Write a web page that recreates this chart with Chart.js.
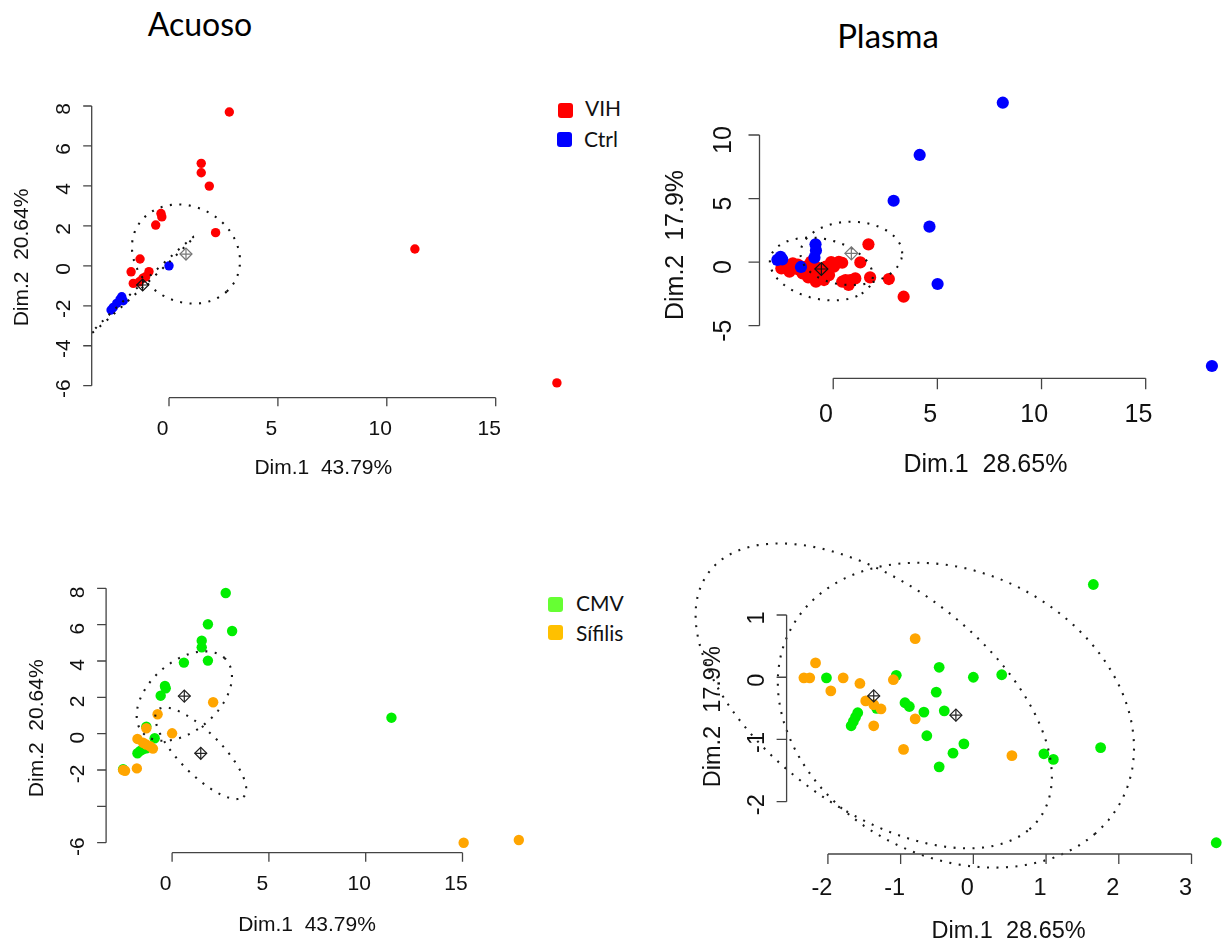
<!DOCTYPE html>
<html>
<head>
<meta charset="utf-8">
<script src="https://cdn.jsdelivr.net/npm/chart.js@4.4.1/dist/chart.umd.min.js"></script>
<style>
  html, body { margin:0; padding:0; background:#fff; }
  body { width:1228px; height:943px; position:relative; overflow:hidden; }
  canvas { position:absolute; left:0; top:0; }
  .ttl { position:absolute; font-family:Lato, "Open Sans", sans-serif; font-size:32px; line-height:1; color:#000; transform:translateX(-50%); white-space:nowrap; }
  .lgt { position:absolute; font-family:Lato, "Open Sans", sans-serif; font-size:21px; line-height:1; color:#111; white-space:nowrap; }
  .lgs { position:absolute; width:15px; height:15px; border-radius:3px; }
</style>
</head>
<body>
<div class="ttl" style="left:200px; top:8px;">Acuoso</div>
<div class="ttl" style="left:888px; top:19px; font-size:33px;">Plasma</div>

<div class="lgs" style="left:558px; top:103px; background:#ff0000;"></div>
<div class="lgt" style="left:585px; top:97px;">VIH</div>
<div class="lgs" style="left:557px; top:132px; background:#0000ff;"></div>
<div class="lgt" style="left:584px; top:128px;">Ctrl</div>

<div class="lgs" style="left:548px; top:597px; background:#66ff33;"></div>
<div class="lgt" style="left:576px; top:592px;">CMV</div>
<div class="lgs" style="left:548px; top:625px; background:#ffc000;"></div>
<div class="lgt" style="left:576px; top:622px;">Sífilis</div>

<canvas id="c1" width="1228" height="943"></canvas>
<canvas id="c2" width="1228" height="943"></canvas>
<canvas id="c3" width="1228" height="943"></canvas>
<canvas id="c4" width="1228" height="943"></canvas>

<script>
// ---------------- DATA ----------------
// Panel: Acuoso, VIH vs Ctrl
const acuosoVihX  = [2.77, 1.48, 1.48, 1.85, -0.37, -0.33, -0.61, 2.14, -1.33, -1.74, -0.92, -1.07, -1.64, -1.36, -1.20, 11.29, 17.81];
const acuosoVihY  = [7.70, 5.13, 4.66, 3.99, 2.62, 2.45, 2.04, 1.66, 0.34, -0.30, -0.29, -0.55, -0.88, -0.80, -0.62, 0.84, -5.86];
const acuosoCtrlX = [0.00, -2.10, -2.17, -2.25, -2.40, -2.56, -2.66];
const acuosoCtrlY = [0.00, -1.75, -1.55, -1.68, -1.88, -2.08, -2.21];
const acuosoHivCenterX = [0.78, -1.21];
const acuosoHivCenterY = [0.59, -0.96];
const acuosoHivEllA   = [2.65, 3.38];
const acuosoHivEllB   = [2.30, 0.08];
const acuosoHivEllAng = [-45, 45.7];

// Panel: Plasma, VIH vs Ctrl
const plasmaVihX = [1.69, 1.30, 1.77, 2.67, 3.38, -2.25, -1.94, -1.62, -1.31, -1.07, -0.83, -0.60, -0.44, -0.20, 0.03, 0.27, 0.43, 0.59, 0.82, 1.06, 0.74, 0.43, -2.10, -1.47, -0.99, -0.60, -0.83, -0.36, -2.49, -0.10, -1.80, -1.10, -0.40, -1.70, -1.20, 0.10];
const plasmaVihY = [1.40, -0.02, -1.20, -1.33, -2.72, -0.36, -0.10, -0.62, -0.36, 0.03, -0.36, -0.62, -1.41, -1.02, -0.36, 0.03, -0.05, -1.41, -1.41, -1.28, -1.80, -1.54, -0.75, -0.88, -1.02, -1.02, -1.54, -0.36, -0.49, 0.00, -0.30, -0.70, -0.80, -0.20, -1.20, -0.15];
const plasmaCtrlX = [8.14, 4.15, 2.90, 4.62, 5.01, 18.18, -2.53, -2.68, -2.45, -1.55, -0.85, -0.83, -0.90];
const plasmaCtrlY = [12.54, 8.43, 4.83, 2.79, -1.72, -8.17, 0.42, 0.18, 0.22, -0.38, 1.40, 0.92, 0.35];
const plasmaHivCenterX = [-0.57, 0.87];
const plasmaHivCenterY = [-0.54, 0.69];
const plasmaHivEllA   = [2.74, 2.44];
const plasmaHivEllB   = [2.17, 2.49];
const plasmaHivEllAng = [-45, 0];

// Panel: Acuoso, CMV vs Sífilis
const acuosoCmvX = [2.77, 1.85, 3.10, 1.53, 1.53, 1.85, 0.61, -0.37, -0.33, -0.59, 11.33, -1.33, -0.90, -1.79, -1.51, -1.33, -2.53, -1.65];
const acuosoCmvY = [7.74, 6.02, 5.65, 5.12, 4.75, 4.02, 3.91, 2.63, 2.50, 2.09, 0.88, 0.39, -0.25, -1.08, -0.86, -0.80, -1.96, -0.95];
const acuosoSifX = [2.12, -0.75, 0.00, -1.33, -1.79, -1.33, -1.14, -0.99, -1.82, -2.53, -2.43, 15.06, 17.91, -1.50];
const acuosoSifY = [1.73, 1.07, 0.02, 0.30, -0.29, -0.60, -0.69, -0.82, -1.91, -2.00, -2.04, -6.00, -5.85, -0.50];
const acuosoInfCenterX = [0.63, 1.48];
const acuosoInfCenterY = [2.07, -1.08];
const acuosoInfEllA   = [2.95, 3.26];
const acuosoInfEllB   = [1.85, 1.12];
const acuosoInfEllAng = [45, -47.5];

// Panel: Plasma, CMV vs Sífilis
const plasmaCmvX = [1.65, 3.34, -0.47, 0.00, 0.39, -2.02, -1.06, -0.51, -0.94, -0.88, -0.68, -0.40, -1.33, -1.59, -1.62, -1.65, -1.68, -0.64, -0.13, -0.28, -0.47, 0.97, 1.10, 1.75];
const plasmaCmvY = [1.49, -2.66, 0.16, 0.00, 0.04, -0.01, 0.03, -0.24, -0.41, -0.47, -0.56, -0.54, -0.50, -0.57, -0.64, -0.71, -0.78, -0.94, -1.07, -1.22, -1.44, -1.23, -1.32, -1.13];
const plasmaSifX = [-0.80, -2.17, -2.33, -2.25, -1.79, -1.56, -1.96, -1.10, -1.48, -1.37, -1.27, -1.37, -0.80, -0.96, 0.53];
const plasmaSifY = [0.62, 0.23, -0.01, -0.01, -0.01, -0.10, -0.22, -0.04, -0.38, -0.44, -0.51, -0.78, -0.67, -1.16, -1.26];
const plasmaInfCenterX = [-0.24, -1.37];
const plasmaInfCenterY = [-0.61, -0.30];
const plasmaInfEllA   = [2.70, 3.03];
const plasmaInfEllB   = [2.17, 1.68];
const plasmaInfEllAng = [-45, -45];

// Ticks and labels
const acuosoXTicks = [0, 5, 10, 15];
const acuosoXLabels = ['0', '5', '10', '15'];
const acuosoYTicks = [-6, -4, -2, 0, 2, 4, 6, 8];
const acuosoYLabels = ['-6', '-4', '-2', '0', '2', '4', '6', '8'];
const acuosoYLabels2 = ['-6', '', '-2', '0', '2', '4', '6', '8'];
const plasmaXTicks = [0, 5, 10, 15];
const plasmaXLabels = ['0', '5', '10', '15'];
const plasmaYTicks = [-5, 0, 5, 10];
const plasmaYLabels = ['-5', '0', '5', '10'];
const plasma2XTicks = [-2, -1, 0, 1, 2, 3];
const plasma2XLabels = ['-2', '-1', '0', '1', '2', '3'];
const plasma2YTicks = [-2, -1, 0, 1];
const plasma2YLabels = ['-2', '-1', '0', '1'];
const acuosoXTitle = 'Dim.1  43.79%';
const acuosoYTitle = 'Dim.2  20.64%';
const plasmaXTitle = 'Dim.1  28.65%';
const plasmaYTitle = 'Dim.2  17.9%';

// ---------------- HELPERS ----------------
const W = 1228, H = 943;
const zip = (xs, ys) => xs.map((x, i) => ({ x: x, y: ys[i] }));
function lin(p, a, b) { return a[1] + (p - a[0]) * (b[1] - a[1]) / (b[0] - a[0]); }

function ellipse(cx, cy, a, b, deg) {
  const th = deg * Math.PI / 180, pts = [];
  for (let i = 0; i <= 140; i++) {
    const t = i / 140 * 2 * Math.PI;
    pts.push({
      x: cx + a * Math.cos(t) * Math.cos(th) - b * Math.sin(t) * Math.sin(th),
      y: cy + a * Math.cos(t) * Math.sin(th) + b * Math.sin(t) * Math.cos(th)
    });
  }
  return pts;
}

function pointsDS(xs, ys, color, r, order, clip) {
  return { data: zip(xs, ys), pointStyle: 'circle', pointRadius: r, pointBackgroundColor: color,
           pointBorderColor: color, pointBorderWidth: 0, showLine: false, order: order, clip: clip };
}
function ellipseDS(cx, cy, a, b, ang, color, clip) {
  return { data: ellipse(cx, cy, a, b, ang), showLine: true, pointRadius: 0, borderColor: color,
           borderWidth: 2.1, borderDash: [2, 7.5], tension: 0, fill: false, order: 1, clip: clip };
}
function centerDS(xs, ys, colors, r) {
  const out = [];
  xs.forEach((x, i) => {
    out.push({ data: [{ x: x, y: ys[i] }], pointStyle: 'rectRot', pointRadius: r, pointBackgroundColor: 'rgba(0,0,0,0)',
               pointBorderColor: colors[i], pointBorderWidth: 1.2, showLine: false, order: 0, clip: false });
    out.push({ data: [{ x: x, y: ys[i] }], pointStyle: 'cross', pointRadius: r, pointBorderColor: colors[i],
               pointBorderWidth: 1.2, showLine: false, order: 0, clip: false });
  });
  return out;
}
function ellipsesDS(cx, cy, A, B, ang, color, clip) {
  return cx.map((c, i) => ellipseDS(c, cy[i], A[i], B[i], ang[i], color, clip));
}

// R-style axes drawn from the chart's own scales
const rAxes = {
  id: 'rAxes',
  afterDraw(chart, args, o) {
    const ctx = chart.ctx, xs = chart.scales.x, ys = chart.scales.y, ca = chart.chartArea;
    ctx.save();
    ctx.strokeStyle = '#444'; ctx.lineWidth = 1.3; ctx.fillStyle = '#111';
    const bx = ca.bottom, lx = ca.left;
    ctx.beginPath();
    ctx.moveTo(xs.getPixelForValue(o.xTicks[0]), bx);
    ctx.lineTo(xs.getPixelForValue(o.xTicks[o.xTicks.length - 1]), bx);
    o.xTicks.forEach(v => { const p = xs.getPixelForValue(v); ctx.moveTo(p, bx); ctx.lineTo(p, bx + o.tick); });
    ctx.moveTo(lx, ys.getPixelForValue(o.yTicks[0]));
    ctx.lineTo(lx, ys.getPixelForValue(o.yTicks[o.yTicks.length - 1]));
    o.yTicks.forEach(v => { const p = ys.getPixelForValue(v); ctx.moveTo(lx, p); ctx.lineTo(lx - o.tick, p); });
    ctx.stroke();
    const fs = o.font;
    ctx.font = fs + 'px "Liberation Sans", Arial, sans-serif';
    ctx.textAlign = 'center'; ctx.textBaseline = 'alphabetic';
    const dy = 0.358 * fs;
    o.xTicks.forEach((v, i) => ctx.fillText(o.xLabels[i], xs.getPixelForValue(v) + o.xdx, bx + o.xdy + dy));
    o.yTicks.forEach((v, i) => {
      ctx.save(); ctx.translate(lx + o.ydx, ys.getPixelForValue(v) + o.ydy); ctx.rotate(-Math.PI / 2);
      ctx.fillText(o.yLabels[i], 0, dy); ctx.restore();
    });
    ctx.fillText(o.xTitle, o.xT[0], o.xT[1] + dy);
    ctx.save(); ctx.translate(o.yT[0], o.yT[1]); ctx.rotate(-Math.PI / 2); ctx.fillText(o.yTitle, 0, dy); ctx.restore();
    ctx.restore();
  }
};

function build(id, L, datasets, axis) {
  return new Chart(document.getElementById(id), {
    type: 'scatter',
    data: { datasets: datasets },
    options: {
      responsive: false, animation: false, devicePixelRatio: 1, events: [],
      layout: { padding: { left: L.left, top: L.top, right: W - L.right, bottom: H - L.bottom } },
      scales: {
        x: { type: 'linear', display: false, min: lin(L.left, L.xCal[0], L.xCal[1]), max: lin(L.right, L.xCal[0], L.xCal[1]) },
        y: { type: 'linear', display: false, min: lin(L.bottom, L.yCal[0], L.yCal[1]), max: lin(L.top, L.yCal[0], L.yCal[1]) }
      },
      plugins: { legend: { display: false }, tooltip: { enabled: false }, rAxes: axis }
    },
    plugins: [rAxes]
  });
}

const RED = '#ff0000', BLUE = '#0000ff', GREEN = '#00ee00', ORANGE = '#ffa500';

// Panel 1
build('c1',
  { left: 91.7, right: 580, top: 95, bottom: 397.7, xCal: [[169.0, 0], [495.7, 15]], yCal: [[106.0, 8], [385.7, -6]] },
  [].concat(
    centerDS(acuosoHivCenterX, acuosoHivCenterY, ['#777', '#111'], 6),
    ellipsesDS(acuosoHivCenterX, acuosoHivCenterY, acuosoHivEllA, acuosoHivEllB, acuosoHivEllAng, '#111', undefined),
    [pointsDS(acuosoCtrlX, acuosoCtrlY, BLUE, 4.7, 2), pointsDS(acuosoVihX, acuosoVihY, RED, 4.7, 3)]
  ),
  { xTicks: acuosoXTicks, xLabels: acuosoXLabels, yTicks: acuosoYTicks, yLabels: acuosoYLabels, tick: 8.5, font: 21,
    xdx: -6.5, xdy: 29.3, ydx: -29.7, ydy: 3, xTitle: acuosoXTitle, yTitle: acuosoYTitle, xT: [323.3, 466.7], yT: [20, 257.5] });

// Panel 2
build('c2',
  { left: 759.5, right: 1227, top: 88, bottom: 378.3, xCal: [[834.3, 0], [1151.3, 15]], yCal: [[135, 10], [325.7, -5]] },
  [].concat(
    centerDS(plasmaHivCenterX, plasmaHivCenterY, ['#111', '#777'], 6.5),
    ellipsesDS(plasmaHivCenterX, plasmaHivCenterY, plasmaHivEllA, plasmaHivEllB, plasmaHivEllAng, '#111', undefined),
    [pointsDS(plasmaCtrlX, plasmaCtrlY, BLUE, 6.1, 2), pointsDS(plasmaVihX, plasmaVihY, RED, 6.1, 3)]
  ),
  { xTicks: plasmaXTicks, xLabels: plasmaXLabels, yTicks: plasmaYTicks, yLabels: plasmaYLabels, tick: 11, font: 25,
    xdx: -7.3, xdy: 35, ydx: -37.6, ydy: 5, xTitle: plasmaXTitle, yTitle: plasmaYTitle, xT: [985.4, 463.3], yT: [674, 245] });

// Panel 3
build('c3',
  { left: 106.1, right: 540, top: 575, bottom: 852.7, xCal: [[172.1, 0], [462.5, 15]], yCal: [[588.3, 8], [842.7, -6]] },
  [].concat(
    centerDS(acuosoInfCenterX, acuosoInfCenterY, ['#222', '#222'], 6),
    ellipsesDS(acuosoInfCenterX, acuosoInfCenterY, acuosoInfEllA, acuosoInfEllB, acuosoInfEllAng, '#1a1a1a', undefined),
    [pointsDS(acuosoSifX, acuosoSifY, ORANGE, 5.2, 2), pointsDS(acuosoCmvX, acuosoCmvY, GREEN, 5.2, 3)]
  ),
  { xTicks: acuosoXTicks, xLabels: acuosoXLabels, yTicks: acuosoYTicks, yLabels: acuosoYLabels2, tick: 9, font: 21,
    xdx: -6.5, xdy: 30, ydx: -29.3, ydy: 4, xTitle: acuosoXTitle, yTitle: acuosoYTitle, xT: [307, 923.3], yT: [35.7, 728.3] });

// Panel 4
build('c4',
  { left: 786.6, right: 1227, top: 540, bottom: 854, xCal: [[828.5, -2], [1197.3, 3]], yCal: [[615, 1], [801.7, -2]] },
  [].concat(
    centerDS(plasmaInfCenterX, plasmaInfCenterY, ['#222', '#222'], 6),
    ellipsesDS(plasmaInfCenterX, plasmaInfCenterY, plasmaInfEllA, plasmaInfEllB, plasmaInfEllAng, '#1a1a1a', false),
    [pointsDS(plasmaSifX, plasmaSifY, ORANGE, 5.4, 2, false), pointsDS(plasmaCmvX, plasmaCmvY, GREEN, 5.4, 3, false)]
  ),
  { xTicks: plasma2XTicks, xLabels: plasma2XLabels, yTicks: plasma2YTicks, yLabels: plasma2YLabels, tick: 10, font: 23.5,
    xdx: -6, xdy: 32.7, ydx: -31.5, ydy: 3, xTitle: plasmaXTitle, yTitle: plasmaYTitle, xT: [1008.6, 930], yT: [711.5, 716.7] });
</script>
</body>
</html>
